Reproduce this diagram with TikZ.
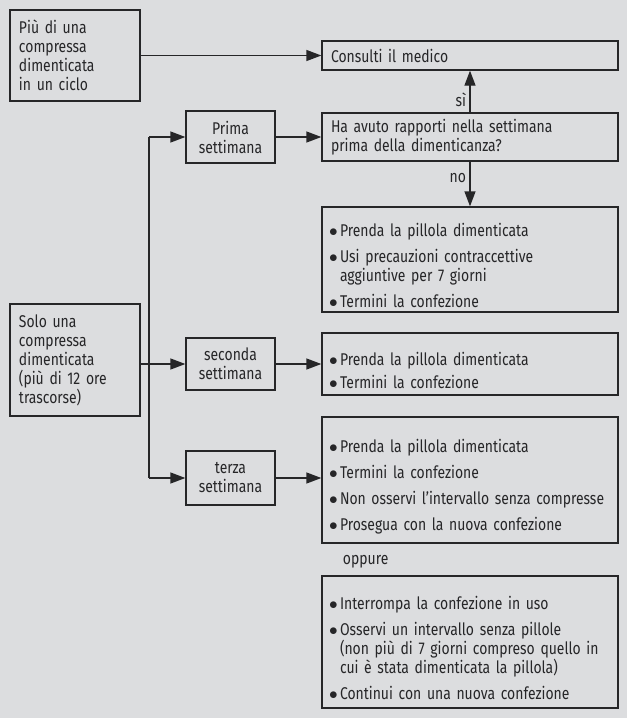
\documentclass[tikz,border=0pt]{standalone}
\usepackage{fontspec}
\setmainfont{Fira Sans}[FakeStretch=0.82]
\usetikzlibrary{arrows.meta}
\definecolor{sfondo}{RGB}{220,221,223}
\definecolor{linea}{RGB}{38,38,40}
\hyphenpenalty=10000
\newcommand{\voce}[1]{\par\hangindent=11pt\hangafter=1\noindent\makebox[11pt][l]{$\bullet$}#1\par}
\tikzset{
	riquadro/.style = {draw=linea, line width=1.3pt, text=linea, inner xsep=9pt, inner ysep=0pt, align=left, font=\fontsize{17}{19}\selectfont},
	colonna/.style = {riquadro, text width=112pt, minimum height=#1},
	settimana/.style = {riquadro, align=center, text width=71pt, minimum height=#1},
	elenco/.style = {riquadro, text width=282pt, inner xsep=7pt, minimum height=#1, execute at begin node={\setlength{\parskip}{7pt}}},
	scritta/.style = {font=\fontsize{17}{19}\selectfont, text=linea},
}

\begin{document}
\begin{tikzpicture}[x=1pt, y=-1pt, >={Triangle[length=15pt,width=11pt]}, line width=1.3pt, draw=linea]
	\fill[sfondo] (0,0) rectangle (627,718);

	\node[colonna=91pt] (piu) at (75,55.5) {Più di una\\compressa\\dimenticata\\in un ciclo};
	\node[colonna=112pt] (solo) at (75,360) {Solo una\\compressa\\dimenticata\\(più di 12 ore\\trascorse)};

	\node[settimana=52pt] (prima) at (230.5,137) {Prima\\settimana};
	\node[settimana=52pt] (seconda) at (230.5,364) {seconda\\settimana};
	\node[settimana=54pt] (terza) at (230.5,478) {terza\\settimana};

	\node[elenco=29pt] (medico) at (470,55.5) {\hspace*{2pt}Consulti il medico};
	\node[elenco=48pt] (domanda) at (470,137) {\hspace*{2pt}Ha avuto rapporti nella settimana\\\hspace*{2pt}prima della dimenticanza?};
	\node[elenco=105pt] (lista1) at (470,259.5) {\voce{Prenda la pillola dimenticata}\voce{Usi precauzioni contraccettive\newline aggiuntive per 7 giorni}\voce{Termini la confezione}};
	\node[elenco=62pt] (lista2) at (470,364) {\voce{Prenda la pillola dimenticata}\vspace{-3pt}\voce{Termini la confezione}};
	\node[elenco=126pt] (lista3) at (470,480) {\voce{Prenda la pillola dimenticata}\voce{Termini la confezione}\voce{Non osservi l’intervallo senza compresse}\voce{Prosegua con la nuova confezione}};
	\node[scritta, anchor=west] (oppure) at (339,562) {oppure};
	\node[elenco=132pt] (lista4) at (470,642) {\voce{Interrompa la confezione in uso}\voce{Osservi un intervallo senza pillole\newline (non più di 7 giorni compreso quello in\newline cui è stata dimenticata la pillola)}\voce{Continui con una nuova confezione}};

	\coordinate (ramo1) at (149,137);
	\coordinate (ramo3) at (149,478);

	\draw[->] (piu) -- (medico);
	\draw[->] (prima) -- (domanda);
	\draw[->] (domanda) -- node[scritta, left, pos=0.3]{sì} (medico);
	\draw[->] (domanda) -- node[scritta, left, pos=0.37]{no} (lista1);
	\draw (ramo1) -- (ramo3);
	\draw[->] (ramo1) -- (prima);
	\draw[->] (ramo3) -- (terza);
	\draw[->] (solo.east |- seconda) -- (seconda);
	\draw[->] (seconda) -- (lista2);
	\draw[->] (terza.east) -- (terza.east -| lista3.west);
\end{tikzpicture}
\end{document}
